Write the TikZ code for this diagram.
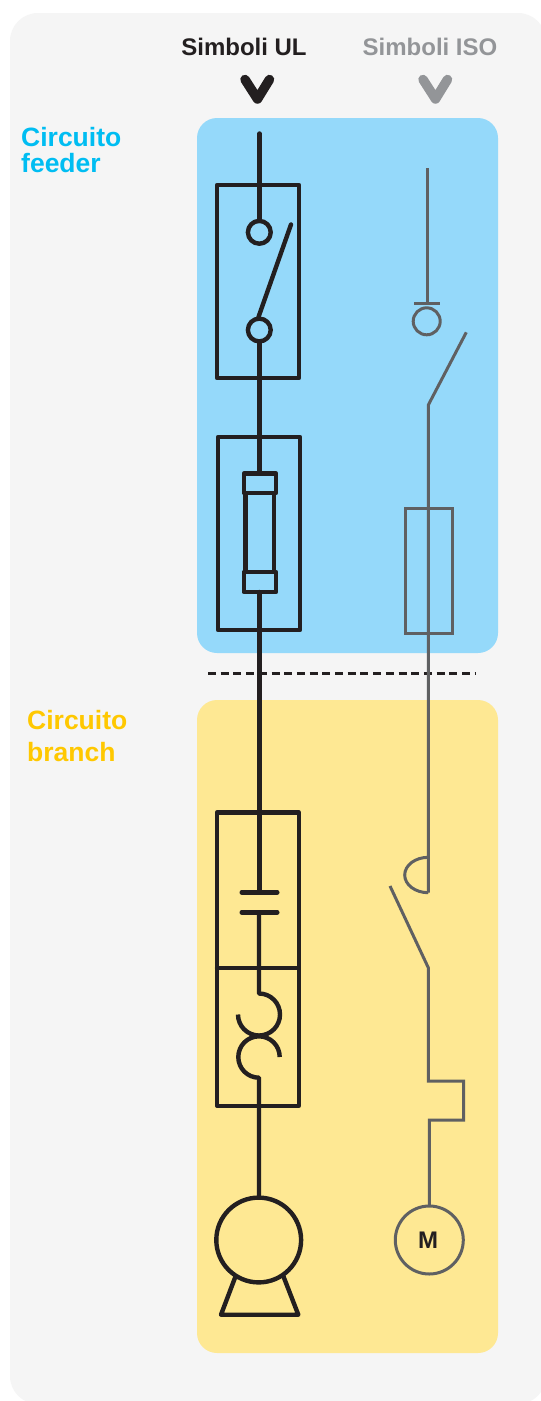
\documentclass[tikz,border=0pt]{standalone}
\usepackage{fontspec}
\setmainfont{Liberation Sans}
\definecolor{panelgrey}{HTML}{F5F5F5}
\definecolor{feederfill}{HTML}{95D9FA}
\definecolor{branchfill}{HTML}{FEE893}
\definecolor{ulink}{HTML}{231F20}
\definecolor{isoink}{HTML}{5F6062}
\definecolor{headgrey}{HTML}{939598}
\definecolor{feedertext}{HTML}{00BDF2}
\definecolor{branchtext}{HTML}{FFC800}
\tikzset{
  ul/.style={draw=ulink,line width=4.4pt,line join=round,line cap=round},
  iso/.style={draw=isoink,line width=3pt,line join=miter},
  panel/.style={rounded corners=20pt},
  chev/.style={line width=9.5pt,line cap=round,line join=round},
  head/.style={anchor=base,inner sep=0pt,font=\bfseries\fontsize{24}{24}\selectfont},
  side/.style={anchor=north west,inner sep=0pt,align=left,font=\bfseries\fontsize{26.5}{#1}\selectfont},
}
\begin{document}
\begin{tikzpicture}[x=1pt,y=-1pt]
\useasboundingbox (0,0) rectangle (541,1401);
\fill[white] (0,0) rectangle (541,1401);
\fill[panelgrey,rounded corners=28pt] (10,13) rectangle (546,1404);
\fill[feederfill,panel] (197,118) rectangle (498,653);
\fill[branchfill,panel] (197,700) rectangle (498,1353);

% headings
\node[head,text=ulink] (hul) at (244,55.5) {Simboli UL};
\node[head,text=headgrey] (hiso) at (430,55.5) {Simboli ISO};
\draw[chev,ulink] (245,79.5) -- (257.5,99) -- (269.5,79.5);
\draw[chev,headgrey] (423,79.5) -- (435.5,99) -- (447.5,79.5);
\node[side=25.7pt,text=feedertext] (lfeeder) at (21,127.5) {Circuito\\feeder};
\node[side=32.5pt,text=branchtext] (lbranch) at (27,710) {Circuito\\branch};

% separator
\draw[ulink,line width=2.6pt,dash pattern=on 8pt off 4.7pt] (208,673.7) -- (475,673.7);

% UL column
\draw[ul] (217,185) rectangle (299,378);
\draw[ul] (218,437) rectangle (300,630);
\draw[ul] (217,812.5) rectangle (298.7,1105.7);
\draw[ul] (217,968) -- (298.7,968);
\draw[ul] (259.5,133.5) -- (259.5,221);
\draw[ul] (259.3,232.3) circle[radius=11.4];
\draw[ul] (259.3,330) circle[radius=11.4];
\draw[ul] (258.5,317) -- (291,224.5);
\draw[ul] (259.5,341.2) -- (259.5,473.5);
\draw[ul] (245.5,493) rectangle (273.8,572);
\draw[ul] (243.7,473.5) rectangle (276,493);
\draw[ul] (243.7,572) rectangle (276,592);
\draw[ul] (259.3,592) -- (259.3,892.3);
\draw[ul] (241.7,892.3) -- (277.3,892.3);
\draw[ul] (241.7,912.3) -- (277.3,912.3);
\draw[ul,line cap=butt] (259,912.3) -- (259,993.5) arc[start angle=-90,end angle=180,radius=21];
\draw[ul,line cap=butt] (279.7,1057) arc[start angle=0,end angle=-270,radius=20.7] -- (259,1198);
\draw[ul] (258.7,1240) circle[radius=42.4];
\draw[ul] (235.3,1277) -- (221,1314.7) -- (298.3,1314.7) -- (283.3,1276);

% ISO column
\draw[iso] (427,168) -- (427,303.3);
\draw[iso,line width=3.4pt] (414,303.3) -- (440,303.3);
\draw[iso] (426.7,321.3) circle[radius=13.5];
\draw[iso] (466.3,332.3) -- (428.3,405) -- (428.3,892.7);
\draw[iso] (405.7,508.5) rectangle (452,633.5);
\draw[iso] (428.3,857.3) arc[start angle=-90,end angle=-270,x radius=23.6,y radius=17.7];
\draw[iso] (390,886) -- (428.3,967.7) -- (428.3,1081) -- (463.7,1081) -- (463.7,1120) -- (429.3,1120) -- (429.3,1206);
\draw[iso] (429.3,1240) circle[radius=34];
\node[inner sep=0pt,anchor=base,text=ulink,font=\bfseries\fontsize{24}{24}\selectfont] (motorm) at (428,1248) {M};
\end{tikzpicture}
\end{document}
